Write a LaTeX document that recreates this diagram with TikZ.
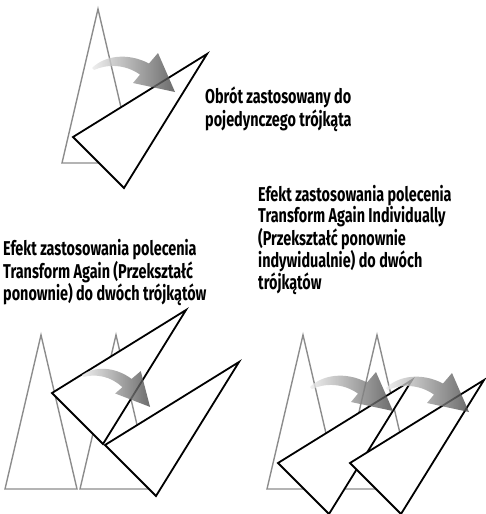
\documentclass[tikz,border=0pt]{standalone}
\usepackage{fontspec}
\setmainfont{Fira Sans}[FakeStretch=0.72]
\usetikzlibrary{positioning}

\begin{document}
\begin{tikzpicture}[
  x=1pt, y=-1pt,
  ghost/.style={draw=black!45, line width=1.4pt},
  turned/.style={draw=black, fill=white, line width=1.8pt},
  sweep/.style={left color=black!8, right color=black!72, draw=none, opacity=0.8},
  caption/.style={anchor=north west, inner sep=0pt, align=left,
     font=\bfseries\fontsize{20}{21}\selectfont},
  ghosttri/.pic={\draw[ghost] (0,0) -- (-36,154) -- (36,154) -- cycle;},
  turnedtri/.pic={\draw[turned] (0,0) -- (134,-83) -- (51,51) -- cycle;},
  turn/.pic={\path[sweep] (0,0) .. controls (12,-12) and (35,-16) .. (57,-4.5)
     -- (66,-15) -- (83,24) -- (41,15) -- (48,6.6)
     .. controls (33,-4) and (15,-4) .. (2,2) -- cycle;},
]
\useasboundingbox (0,0) rectangle (485,514);
% --- single triangle ---
\pic at (98,9) {ghosttri};
\pic at (73,137) {turnedtri};
\pic at (92,68) {turn};
% --- transform again ---
\pic at (41,335) {ghosttri};
\pic at (116,335) {ghosttri};
\pic at (52,393) {turnedtri};
\pic at (105,445) {turnedtri};
\pic[rotate=-9, scale=0.87] at (82,375) {turn};
% --- transform again individually ---
\pic at (303,335) {ghosttri};
\pic at (377,335) {ghosttri};
\pic at (278,463) {turnedtri};
\pic at (350,463) {turnedtri};
\pic at (310,387) {turn};
\pic at (386,388) {turn};
% --- captions ---
\node[caption] (single) at (205,87) {Obrót zastosowany do\\pojedynczego trójkąta};
\node[caption] (again) at (3,239) {Efekt zastosowania polecenia\\Transform Again (Przekształć\\ponownie) do dwóch trójkątów};
\node[caption] (indiv) at (258,185) {Efekt zastosowania polecenia\\Transform Again Individually\\(Przekształć ponownie\\indywidualnie) do dwóch\\trójkątów};
\end{tikzpicture}
\end{document}
